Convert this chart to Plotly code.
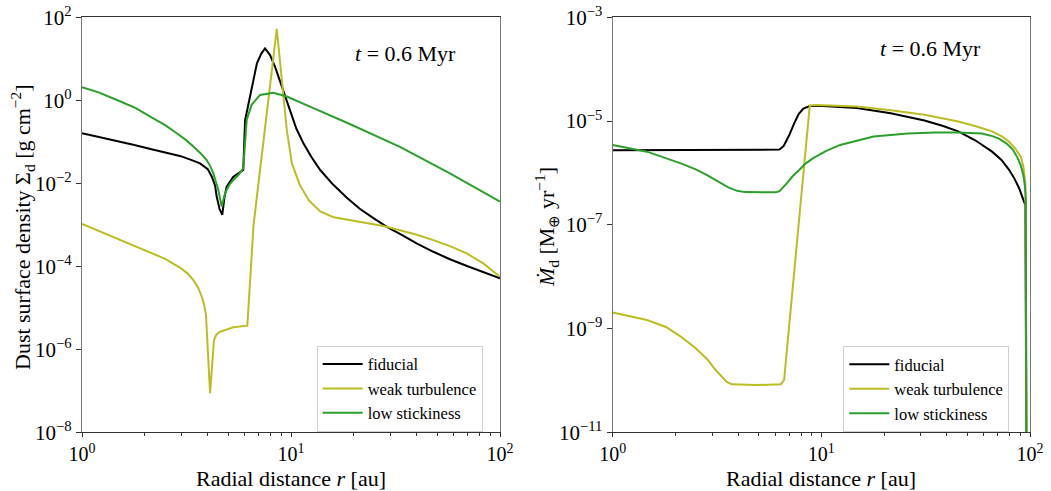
import numpy as np
import plotly.graph_objects as go

# ---------------- Left panel: dust surface density (log10 values) ----------------
fid_r = [1.0, 1.3, 1.76, 2.2, 2.94, 3.3, 3.67, 4.0, 4.18, 4.33, 4.41, 4.55, 4.69, 4.8, 4.92,
         5.3, 5.6, 5.91, 6.03, 6.37, 6.87, 7.2, 7.51, 7.94, 8.4, 8.85, 9.4, 9.89, 10.6, 11.5,
         12.5, 13.8, 15.9, 18.5, 21.4, 25.0, 29.0, 33.2, 39.9, 48.0, 57.6, 70.0, 85.0, 100.0]
fid_sig_log = [-0.795, -0.92, -1.07, -1.19, -1.34, -1.43, -1.52, -1.66, -1.84, -2.05, -2.32,
               -2.62, -2.76, -2.35, -2.08, -1.84, -1.76, -1.68, -0.48, 0.09, 0.89, 1.12, 1.25,
               1.09, 0.80, 0.47, 0.10, -0.22, -0.68, -1.05, -1.36, -1.68, -2.03, -2.35, -2.62,
               -2.85, -3.06, -3.22, -3.45, -3.65, -3.83, -4.0, -4.15, -4.29]

weak_r = [1.0, 1.175, 1.47, 2.04, 2.5, 2.94, 3.2, 3.41, 3.6, 3.74, 3.85, 3.92, 4.10, 4.28, 4.4,
          4.57, 5.30, 6.18, 6.62, 8.55, 9.55, 10.1, 11.04, 12.2, 13.8, 16.0, 18.5, 21.4, 27.7,
          33.2, 40.0, 48.0, 58.0, 69.3, 83.2, 100.0]
weak_sig_log = [-2.98, -3.125, -3.33, -3.62, -3.82, -4.03, -4.17, -4.33, -4.52, -4.73, -4.95,
                -5.17, -7.06, -5.78, -5.64, -5.58, -5.47, -5.43, -3.0, 1.72, -0.72, -1.52,
                -2.05, -2.42, -2.68, -2.82, -2.88, -2.93, -3.03, -3.13, -3.24, -3.37, -3.52,
                -3.69, -3.93, -4.25]

low_r = [1.0, 1.2, 1.47, 1.8, 2.12, 2.5, 2.84, 3.15, 3.41, 3.7, 3.95, 4.1, 4.25, 4.49, 4.66,
         4.8, 4.92, 5.1, 5.3, 5.6, 5.91, 6.14, 6.48, 7.11, 8.22, 9.55, 12.8, 19.1, 33.2, 57.6,
         100.0]
low_sig_log = [0.313, 0.19, 0.008, -0.18, -0.394, -0.60, -0.795, -0.96, -1.116, -1.28, -1.438,
               -1.58, -1.76, -2.16, -2.56, -2.3, -2.16, -2.02, -1.92, -1.80, -1.64, -0.47, -0.11,
               0.13, 0.18, 0.09, -0.19, -0.57, -1.12, -1.76, -2.44]

# ---------------- Right panel: dust mass flux (log10 values) ----------------
fid_r2 = [1.0, 6.04, 6.3, 6.6, 7.0, 7.4, 7.8, 8.2, 8.8, 10.2, 14.8, 21.5, 31.2, 38.0, 45.3,
          54.6, 65.8, 73.0, 79.4, 84.0, 88.8, 92.0, 95.0, 96.5]
fid_mdot_log = [-5.564, -5.564, -5.55, -5.48, -5.28, -5.05, -4.86, -4.76, -4.71, -4.71, -4.75,
                -4.85, -4.99, -5.09, -5.2, -5.37, -5.59, -5.75, -5.94, -6.10, -6.3, -6.47,
                -6.62, -13.0]

weak_r2 = [1.0, 1.46, 1.8, 2.12, 2.5, 2.86, 3.1, 3.33, 3.52, 3.72, 4.83, 6.39, 6.63, 8.8, 9.46,
           14.8, 21.5, 31.2, 45.3, 55.0, 65.8, 73.0, 79.4, 85.0, 90.4, 93.0, 95.0, 96.8]
weak_mdot_log = [-8.69, -8.835, -8.97, -9.157, -9.38, -9.607, -9.79, -9.93, -10.03, -10.076,
                 -10.09, -10.076, -9.99, -4.70, -4.69, -4.72, -4.79, -4.88, -5.01, -5.10, -5.20,
                 -5.29, -5.40, -5.53, -5.69, -5.88, -6.2, -13.0]

low_r2 = [1.0, 1.46, 2.12, 2.5, 2.86, 3.2, 3.58, 3.95, 4.3, 6.04, 6.3, 6.76, 7.3, 7.85, 8.4,
          9.1, 10.5, 12.3, 15.0, 17.8, 25.9, 35.0, 45.3, 58.9, 66.0, 71.0, 77.0, 82.4, 87.0,
          90.4, 93.0, 94.6, 95.5, 96.3]
low_mdot_log = [-5.46, -5.59, -5.815, -5.93, -6.05, -6.17, -6.28, -6.345, -6.37, -6.374, -6.35,
                -6.22, -6.06, -5.94, -5.82, -5.72, -5.58, -5.46, -5.37, -5.30, -5.24, -5.22,
                -5.22, -5.24, -5.29, -5.34, -5.43, -5.54, -5.70, -5.86, -6.05, -6.26, -6.5,
                -13.0]

series_names = ["fiducial", "weak turbulence", "low stickiness"]
series_colors = ["#000000", "#bcbd22", "#2ca02c"]

x_ticks = [1, 10, 100]
x_ticktext = ["10<sup>0</sup>", "10<sup>1</sup>", "10<sup>2</sup>"]
x_minor = [2, 3, 4, 5, 6, 7, 8, 9, 20, 30, 40, 50, 60, 70, 80, 90]
y1_ticks = [1e-8, 1e-6, 1e-4, 1e-2, 1e0, 1e2]
y1_ticktext = ["10<sup>−8</sup>", "10<sup>−6</sup>", "10<sup>−4</sup>", "10<sup>−2</sup>",
               "10<sup>0</sup>", "10<sup>2</sup>"]
y2_ticks = [1e-11, 1e-9, 1e-7, 1e-5, 1e-3]
y2_ticktext = ["10<sup>−11</sup>", "10<sup>−9</sup>", "10<sup>−7</sup>", "10<sup>−5</sup>",
               "10<sup>−3</sup>"]

FONT = "Liberation Serif"

fig = go.Figure()

left = [(fid_r, fid_sig_log), (weak_r, weak_sig_log), (low_r, low_sig_log)]
right = [(fid_r2, fid_mdot_log), (weak_r2, weak_mdot_log), (low_r2, low_mdot_log)]

for (r, v), name, col in zip(left, series_names, series_colors):
    fig.add_trace(go.Scatter(x=r, y=np.power(10.0, v), mode="lines", name=name,
                             line=dict(color=col, width=2), xaxis="x", yaxis="y",
                             legend="legend"))
for (r, v), name, col in zip(right, series_names, series_colors):
    fig.add_trace(go.Scatter(x=r, y=np.power(10.0, v), mode="lines", name=name,
                             line=dict(color=col, width=2), xaxis="x2", yaxis="y2",
                             legend="legend2"))

xl = (82 / 1051, 500 / 1051)
xr = (612.7 / 1051, 1030 / 1051)
yd = (1 - 432.3 / 491, 1 - 17.3 / 491)

def xaxis(domain, anchor):
    return dict(type="log", domain=domain, anchor=anchor, range=[0, 2],
                tickvals=x_ticks, ticktext=x_ticktext, ticks="outside", ticklen=4,
                tickwidth=1, tickcolor="#333", showline=True, linecolor="#333", linewidth=1.3,
                mirror=True, showgrid=False, zeroline=False, automargin=False,
                tickfont=dict(family=FONT, size=20, color="black"),
                minor=dict(tickvals=x_minor, ticks="outside", ticklen=2.5, tickwidth=1,
                           tickcolor="#333", showgrid=False))

def yaxis(anchor, rng, tv, tt):
    return dict(type="log", domain=yd, anchor=anchor, range=rng, tickvals=tv, ticktext=tt,
                ticks="outside", ticklen=5, tickwidth=1, tickcolor="#333", showline=True,
                linecolor="#777", linewidth=1.3, mirror=True, showgrid=False, zeroline=False,
                automargin=False, tickfont=dict(family=FONT, size=21, color="black"))

legend_common = dict(font=dict(family=FONT, size=16.5, color="black"),
                     bgcolor="rgba(255,255,255,0.85)", bordercolor="#d0d0d0", borderwidth=1,
                     xanchor="left", yanchor="top", itemwidth=40, tracegroupgap=0)

fig.update_layout(
    width=1051, height=491, margin=dict(l=0, r=0, t=0, b=0),
    paper_bgcolor="white", plot_bgcolor="white",
    font=dict(family=FONT, size=20, color="black"),
    xaxis=xaxis(xl, "y"), yaxis=yaxis("x", [-8, 2], y1_ticks, y1_ticktext),
    xaxis2=xaxis(xr, "y2"), yaxis2=yaxis("x2", [-11, -3], y2_ticks, y2_ticktext),
    legend=dict(x=316.7 / 1051, y=1 - 345.7 / 491, **legend_common),
    legend2=dict(x=843.3 / 1051, y=1 - 346 / 491, **legend_common),
    showlegend=True,
)

def ann(text, x, y, size=20, angle=0):
    fig.add_annotation(text=text, x=x / 1051, y=1 - y / 491, xref="paper", yref="paper",
                       xanchor="center", yanchor="middle", showarrow=False, textangle=angle,
                       font=dict(family=FONT, size=size, color="black"))

ann("<i>t</i> = 0.6 Myr", 405, 53, size=22)
ann("<i>t</i> = 0.6 Myr", 930, 48, size=22)
ann("Radial distance <i>r</i> [au]", 291, 478, size=22)
ann("Radial distance <i>r</i> [au]", 821, 478, size=22)
ann("Dust surface density Σ<sub>d</sub> [g cm<sup>−2</sup>]", 22, 227, size=22, angle=-90)
ann("<i>Ṁ</i><sub>d</sub> [M<sub>⊕</sub> yr<sup>−1</sup>]", 546, 227, size=22, angle=-90)

fig.write_html("out.html", config={"displayModeBar": False},
               post_script="document.body.style.margin='0px';")
